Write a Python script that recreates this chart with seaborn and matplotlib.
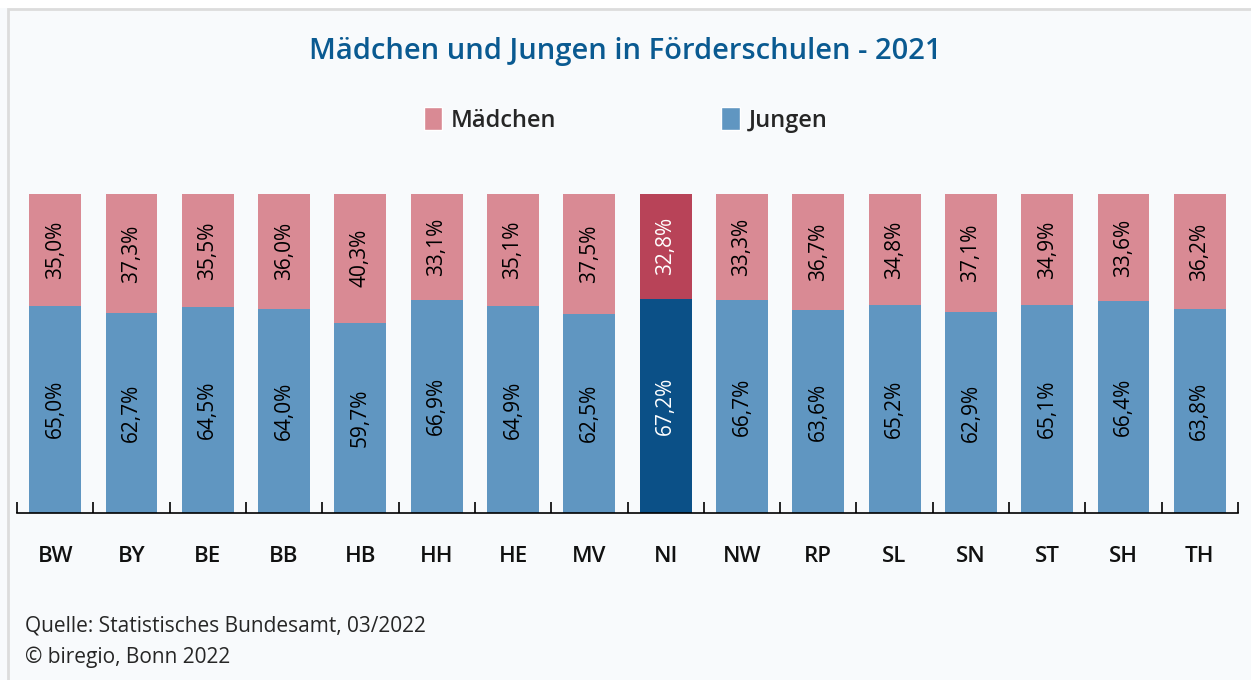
import matplotlib
matplotlib.use("Agg")
import matplotlib.pyplot as plt
from matplotlib.patches import Patch, Rectangle
import numpy as np
import pandas as pd
import seaborn as sns

laender = ["BW", "BY", "BE", "BB", "HB", "HH", "HE", "MV", "NI", "NW", "RP", "SL", "SN", "ST", "SH", "TH"]
jungen = [65.0, 62.7, 64.5, 64.0, 59.7, 66.9, 64.9, 62.5, 67.2, 66.7, 63.6, 65.2, 62.9, 65.1, 66.4, 63.8]
maedchen = [35.0, 37.3, 35.5, 36.0, 40.3, 33.1, 35.1, 37.5, 32.8, 33.3, 36.7, 34.8, 37.1, 34.9, 33.6, 36.2]
highlight = "NI"

c_pink, c_blue = "#d98a94", "#6096c1"
c_pink_hl, c_blue_hl = "#b84358", "#0b5087"
bg = "#f8fafc"

df = pd.DataFrame({"land": laender, "jungen": jungen, "maedchen": maedchen})
df["gesamt"] = df["jungen"] + df["maedchen"]

sns.set_style("white")
plt.rcParams["font.family"] = ["Open Sans", "DejaVu Sans"]

fig = plt.figure(figsize=(12.51, 6.80), dpi=100, facecolor=bg)
ax = fig.add_axes([17 / 1251, 1 - 513 / 680, (1238 - 17) / 1251, (513 - 194) / 680])
ax.set_facecolor(bg)

pal_pink = {l: (c_pink_hl if l == highlight else c_pink) for l in laender}
pal_blue = {l: (c_blue_hl if l == highlight else c_blue) for l in laender}

sns.barplot(data=df, x="land", y="gesamt", hue="land", palette=pal_pink, legend=False,
            width=0.68, saturation=1, linewidth=0, ax=ax)
sns.barplot(data=df, x="land", y="jungen", hue="land", palette=pal_blue, legend=False,
            width=0.68, saturation=1, linewidth=0, ax=ax)

# value labels
for i, row in df.iterrows():
    col = "white" if row["land"] == highlight else "black"
    ax.text(i, row["jungen"] / 2, f"{row['jungen']:.1f}%".replace(".", ","),
            rotation=90, ha="center", va="center", fontsize=15, color=col)
    ax.text(i, row["jungen"] + row["maedchen"] / 2, f"{row['maedchen']:.1f}%".replace(".", ","),
            rotation=90, ha="center", va="center", fontsize=15, color=col)

ax.set_xlim(-0.5, len(laender) - 0.5)
ax.set_ylim(0, 100)
ax.set_xlabel("")
ax.set_ylabel("")
ax.set_yticks([])
for s in ["top", "right", "left"]:
    ax.spines[s].set_visible(False)
ax.spines["bottom"].set_color("black")
ax.spines["bottom"].set_linewidth(1.2)
ax.set_xticks(range(len(laender)))
ax.set_xticklabels(laender, fontsize=16, fontweight="semibold", color="#111111")
ax.set_xticks(np.arange(-0.5, len(laender)), minor=True)
ax.tick_params(axis="x", which="minor", bottom=True, direction="in", length=8, width=1.2, color="black")
ax.tick_params(axis="x", which="major", bottom=True, length=0, pad=24)

fig.text(0.5, 1 - 51 / 680, "Mädchen und Jungen in Förderschulen - 2021",
         ha="center", va="center", fontsize=21, fontweight="semibold", color="#0a5a91")

handles = [Patch(facecolor=c_pink, label="Mädchen"), Patch(facecolor=c_blue, label="Jungen")]
fig.legend(handles=handles, loc="center", bbox_to_anchor=(0.5, 1 - 120 / 680), ncol=2,
           frameon=False, prop={"size": 17, "weight": "semibold"}, handlelength=0.8,
           handleheight=1.1, handletextpad=0.35, columnspacing=7.0)

fig.text(25 / 1251, 1 - 626 / 680, "Quelle: Statistisches Bundesamt, 03/2022",
         ha="left", va="center", fontsize=15)
fig.text(25 / 1251, 1 - 657 / 680, "© biregio, Bonn 2022",
         ha="left", va="center", fontsize=15)

# light frame around the chart
fig.patches.append(Rectangle((8 / 1251, -0.01), 1.1, 1 - 9 / 680 + 0.01, transform=fig.transFigure,
                             fill=False, edgecolor="#dcdcdc", linewidth=2))
fig.patches.append(Rectangle((0, 1 - 8 / 680), 1, 8 / 680, transform=fig.transFigure,
                             facecolor="white", edgecolor="none"))

fig.savefig("out.png", dpi=100, facecolor=bg)
